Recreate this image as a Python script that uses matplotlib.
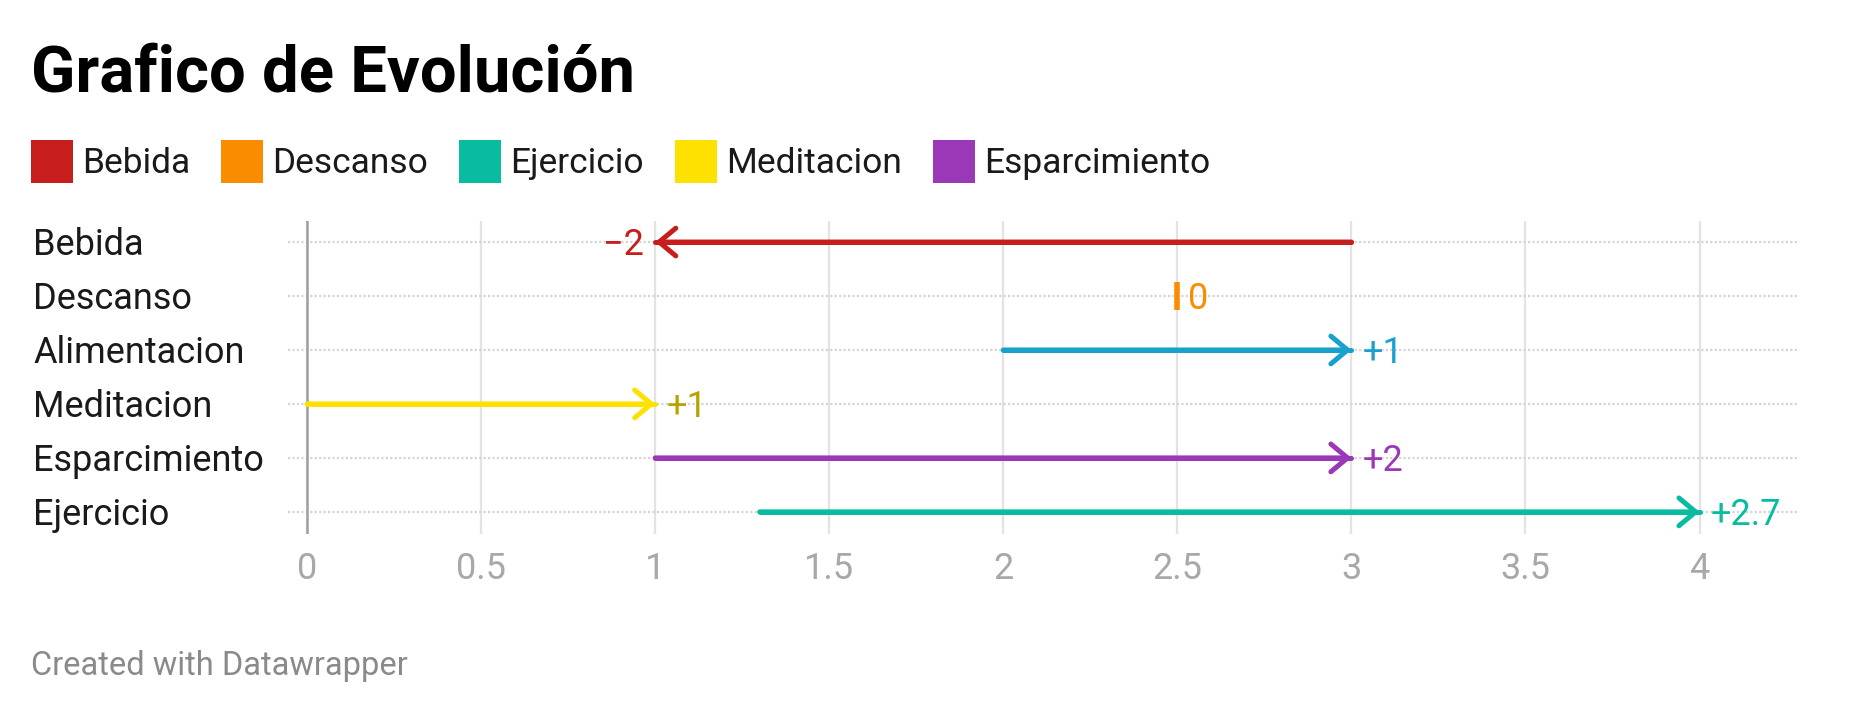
import matplotlib
matplotlib.use("Agg")
import matplotlib.pyplot as plt
from matplotlib.patches import Rectangle

plt.rcParams['font.family'] = ['Roboto', 'DejaVu Sans']

categories = ["Bebida", "Descanso", "Alimentacion", "Meditacion", "Esparcimiento", "Ejercicio"]
start_vals = [3, 2.5, 2, 0, 1, 1.3]
end_vals = [1, 2.5, 3, 1, 3, 4]
change_labels = ["\u22122", "0", "+1", "+1", "+2", "+2.7"]
colors = ["#c71e1d", "#fa8c00", "#18a1cd", "#ffe100", "#9b38b8", "#09bb9f"]
label_colors = ["#c71e1d", "#fa8c00", "#18a1cd", "#b8a400", "#9b38b8", "#09bb9f"]
legend_names = ["Bebida", "Descanso", "Ejercicio", "Meditacion", "Esparcimiento"]
legend_colors = ["#c71e1d", "#fa8c00", "#09bb9f", "#ffe100", "#9b38b8"]
xticks = [0, 0.5, 1, 1.5, 2, 2.5, 3, 3.5, 4]
xtick_labels = ["0", "0.5", "1", "1.5", "2", "2.5", "3", "3.5", "4"]

W, H = 1860, 717
fig = plt.figure(figsize=(W / 100, H / 100), dpi=100)

def fx(px):
    return px / W

def fy(py):
    return 1 - py / H

ax = fig.add_axes([fx(288), fy(534), fx(1797) - fx(288), fy(221) - fy(534)])
ax.set_xlim(-0.055, 4.28)
ax.set_ylim(len(categories) - 1 + 0.41, -0.39)
for s in ax.spines.values():
    s.set_visible(False)

# grid
for xv in xticks:
    ax.axvline(xv, color="#e3e3e3", lw=1.6, zorder=0)
ax.axvline(0, color="#a0a0a0", lw=1.8, zorder=1)
for i in range(len(categories)):
    ax.axhline(i, color="#d4d4d4", lw=1.6, ls=(0, (1, 1)), zorder=0)

ax.set_xticks(xticks)
ax.set_xticklabels(xtick_labels)
ax.tick_params(axis='x', length=0, pad=12, labelsize=26, labelcolor="#a8a8a8")
ax.set_yticks([])

FS = 26
CAP_HALF = FS * 0.711 / 2  # points, to center cap height on the row

for i, (s, e, c, lc, lab) in enumerate(zip(start_vals, end_vals, colors, label_colors, change_labels)):
    if s == e:
        ax.plot([s, s], [i - 0.26, i + 0.26], color=c, lw=4, solid_capstyle='butt', zorder=3)
        ax.annotate(lab, (e, i), xytext=(8, -CAP_HALF), textcoords='offset points',
                    ha='left', va='baseline', fontsize=FS, color=lc)
        continue
    ax.plot([s, e], [i, i], color=c, lw=3.6, solid_capstyle='round', zorder=3)
    ax.annotate("", xy=(e, i), xytext=(s, i),
                arrowprops=dict(arrowstyle="->,head_length=0.6,head_width=0.5",
                                color=c, lw=3.6, shrinkA=0, shrinkB=0,
                                capstyle='round', joinstyle='miter', mutation_scale=20),
                zorder=4)
    if e > s:
        ax.annotate(lab, (e, i), xytext=(8, -CAP_HALF), textcoords='offset points',
                    ha='left', va='baseline', fontsize=FS, color=lc)
    else:
        ax.annotate(lab, (e, i), xytext=(-8, -CAP_HALF), textcoords='offset points',
                    ha='right', va='baseline', fontsize=FS, color=lc)

for i, cat in enumerate(categories):
    ax.annotate(cat, (fx(33), i), xycoords=('figure fraction', 'data'),
                xytext=(0, -CAP_HALF), textcoords='offset points',
                ha='left', va='baseline', fontsize=FS, color="#1a1a1a")

# title
fig.text(fx(31), fy(92), "Grafico de Evolución", fontsize=47, fontweight='bold',
         color="#000000", ha='left', va='baseline')

# legend
renderer = fig.canvas.get_renderer()
xpos = 31
for name, c in zip(legend_names, legend_colors):
    fig.patches.append(Rectangle((fx(xpos), fy(183)), fx(42), fy(140) - fy(183),
                                 transform=fig.transFigure, facecolor=c, edgecolor='none'))
    t = fig.text(fx(xpos + 51), fy(173), name, fontsize=25.5, color="#1a1a1a",
                 ha='left', va='baseline')
    bb = t.get_window_extent(renderer=renderer)
    xpos = xpos + 51 + bb.width + 31

fig.text(fx(31), fy(675), "Created with Datawrapper", fontsize=23.5, color="#8a8a8a",
         ha='left', va='baseline')

fig.savefig("out.png", dpi=100, facecolor="white")
